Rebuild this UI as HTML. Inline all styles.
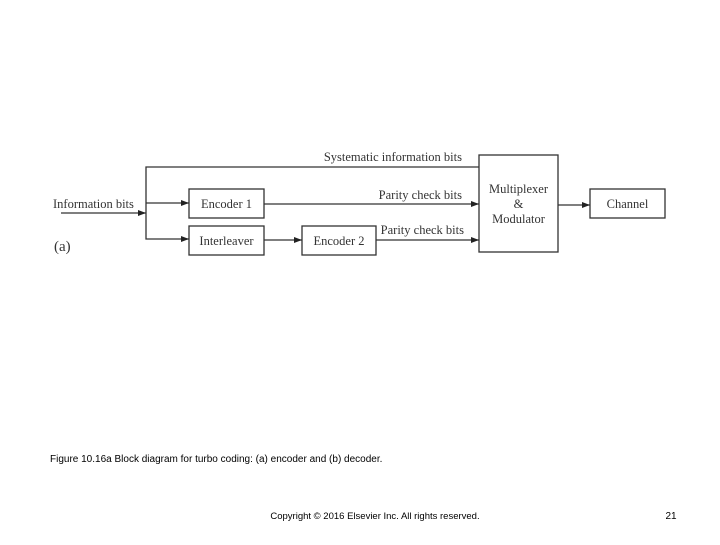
<!DOCTYPE html>
<html><head><style>
body{margin:0;background:#fff;}
svg text{font-family:"Liberation Serif",serif;fill:#333;}
.c{font-family:"Liberation Sans",sans-serif;fill:#000;}
</style></head><body>
<svg width="720" height="540" viewBox="0 0 720 540" xmlns="http://www.w3.org/2000/svg">
<defs><marker id="a" markerWidth="8" markerHeight="6" refX="8" refY="3" orient="auto" markerUnits="userSpaceOnUse"><path d="M0,0 L8,3 L0,6z" fill="#222"/></marker></defs>
<g stroke="#333" stroke-width="1.3" fill="none">
<rect x="189" y="189" width="75" height="29"/>
<rect x="189" y="226" width="75" height="29"/>
<rect x="302" y="226" width="74" height="29"/>
<rect x="479" y="155" width="79" height="97"/>
<rect x="590" y="189" width="75" height="29"/>
<line x1="61" y1="213" x2="146" y2="213" marker-end="url(#a)"/>
<polyline points="479,167 146,167 146,239 189,239" marker-end="url(#a)"/>
<line x1="146" y1="203" x2="189" y2="203" marker-end="url(#a)"/>
<line x1="264" y1="204" x2="479" y2="204" marker-end="url(#a)"/>
<line x1="264" y1="240" x2="302" y2="240" marker-end="url(#a)"/>
<line x1="376" y1="240" x2="479" y2="240" marker-end="url(#a)"/>
<line x1="558" y1="205" x2="590" y2="205" marker-end="url(#a)"/>
</g>
<g font-size="12.5">
<text x="53" y="208">Information bits</text>
<text x="226.5" y="208" text-anchor="middle">Encoder 1</text>
<text x="226.5" y="245" text-anchor="middle">Interleaver</text>
<text x="339" y="245" text-anchor="middle">Encoder 2</text>
<text x="462" y="161" text-anchor="end">Systematic information bits</text>
<text x="462" y="199" text-anchor="end">Parity check bits</text>
<text x="464" y="234" text-anchor="end">Parity check bits</text>
<text x="518.5" y="193" text-anchor="middle">Multiplexer</text>
<text x="518.5" y="208" text-anchor="middle">&amp;</text>
<text x="518.5" y="223" text-anchor="middle">Modulator</text>
<text x="627.5" y="208" text-anchor="middle">Channel</text>
<text x="54" y="251" font-size="15">(a)</text>
</g>
<text class="c" x="50" y="462" font-size="10">Figure 10.16a Block diagram for turbo coding: (a) encoder and (b) decoder.</text>
<text class="c" x="375" y="519" font-size="9.5" text-anchor="middle">Copyright © 2016 Elsevier Inc. All rights reserved.</text>
<text class="c" x="671" y="519" font-size="10" text-anchor="middle">21</text>
</svg>
</body></html>
